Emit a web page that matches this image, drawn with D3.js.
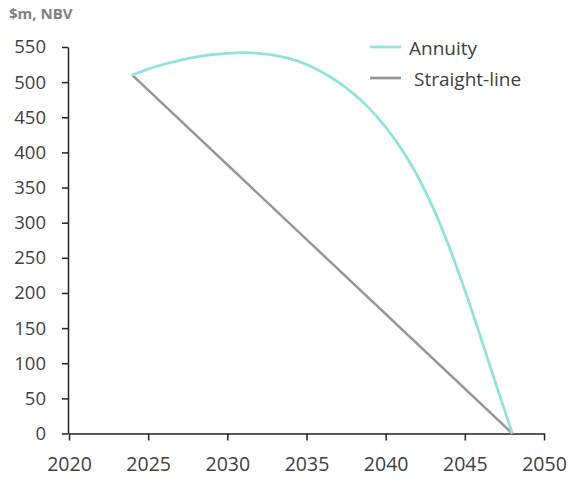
<!DOCTYPE html>
<html lang="en">
<head>
<meta charset="UTF-8">
<title>NBV: Annuity vs Straight-line</title>
<script src="https://d3js.org/d3.v7.min.js"></script>
<style>
    body { margin: 0; background: #fff; font-family: "Open Sans", sans-serif; }
    .tick text { font-family: "Open Sans", sans-serif; fill: #404040; }
    .domain, .tick line { stroke: #222; stroke-width: 1.5; }
</style>
</head>
<body>
<svg width="570" height="479"></svg>
<script>
    const years = [2024, 2025, 2026, 2027, 2028, 2029, 2030, 2031, 2032, 2033, 2034, 2035, 2036,
                   2037, 2038, 2039, 2040, 2041, 2042, 2043, 2044, 2045, 2046, 2047, 2048];
    const annuity = [510, 518.5, 525.5, 531, 535.5, 539, 541, 542, 541, 538, 533, 525, 514,
                     500, 483, 462, 436, 405, 367, 321, 266, 204, 137, 68, 0];
    const straightYears = [2024, 2048];
    const straightLine = [510, 0];
    const xTicks = [2020, 2025, 2030, 2035, 2040, 2045, 2050];
    const yTicks = [0, 50, 100, 150, 200, 250, 300, 350, 400, 450, 500, 550];

    const svg = d3.select("svg");

    const x = d3.scaleLinear().domain([2020, 2050]).range([69, 544]);
    const y = d3.scaleLinear().domain([0, 550]).range([433.5, 47]);

    // axes
    svg.append("g")
        .attr("transform", "translate(0,433.5)")
        .call(d3.axisBottom(x).tickValues(xTicks).tickFormat(d3.format("d")).tickSize(7).tickSizeOuter(0).tickPadding(17))
        .call(g => g.selectAll("text").style("font-size", "19.5px"));

    svg.append("g")
        .attr("transform", "translate(68,0)")
        .call(d3.axisLeft(y).tickValues(yTicks).tickSize(6).tickSizeOuter(0).tickPadding(16))
        .call(g => g.selectAll("text").style("font-size", "18.5px"));

    // lines
    const lineA = d3.line()
        .x((d, i) => x(years[i]))
        .y(d => y(d))
        .curve(d3.curveCatmullRom);

    const lineS = d3.line()
        .x((d, i) => x(straightYears[i]))
        .y(d => y(d));

    svg.append("path")
        .datum(straightLine)
        .attr("fill", "none")
        .attr("stroke", "#969696")
        .attr("stroke-width", 2.5)
        .attr("d", lineS);

    svg.append("path")
        .datum(annuity)
        .attr("fill", "none")
        .attr("stroke", "#90e2de")
        .attr("stroke-width", 2.75)
        .attr("d", lineA);

    // unit label
    svg.append("text")
        .attr("x", 9)
        .attr("y", 18.5)
        .attr("fill", "#808080")
        .style("font-weight", "bold")
        .style("font-size", "15px")
        .text("$m, NBV");

    // legend
    const legend = svg.append("g");
    const items = [
        { name: "Annuity", color: "#90e2de", y: 47, tx: 409 },
        { name: "Straight-line", color: "#969696", y: 78, tx: 414 }
    ];
    items.forEach(it => {
        legend.append("line")
            .attr("x1", 370).attr("x2", 401)
            .attr("y1", it.y).attr("y2", it.y)
            .attr("stroke", it.color)
            .attr("stroke-width", 2.75);
        legend.append("text")
            .attr("x", it.tx)
            .attr("y", it.y + 8)
            .attr("fill", "#404040")
            .style("font-size", "19px")
            .text(it.name);
    });
</script>
</body>
</html>
